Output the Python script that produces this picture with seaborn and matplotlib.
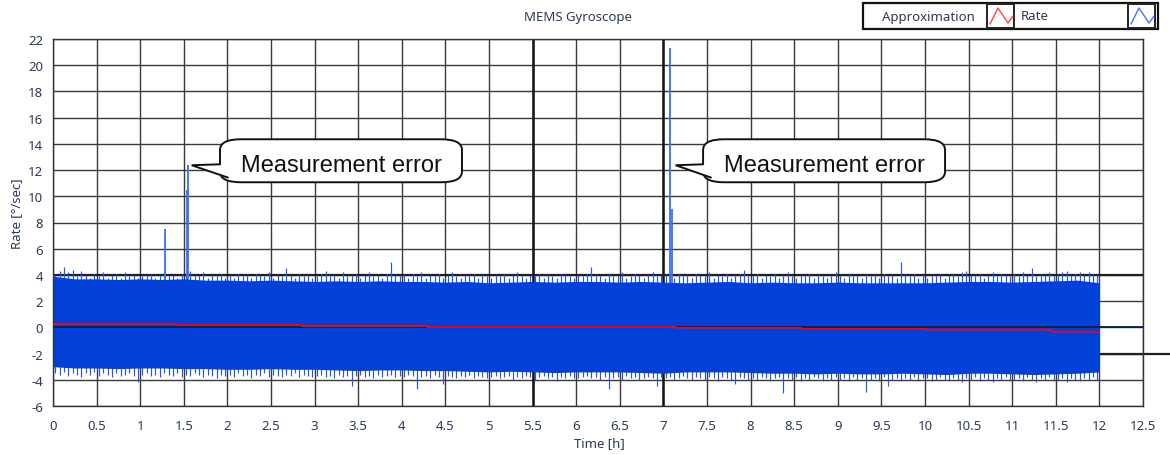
import numpy as np
import pandas as pd
import matplotlib
matplotlib.use("Agg")
import matplotlib.pyplot as plt
import seaborn as sns
from matplotlib.patches import FancyBboxPatch, Polygon, Rectangle
from matplotlib.lines import Line2D

# ---------------- data ----------------
# dense core of the rate signal (every 0.25 h)
env_time = np.arange(0, 12.001, 0.25)
rate_core_upper = [3.9, 3.7, 3.7, 3.65, 3.7, 3.65, 3.7, 3.6, 3.6, 3.55,
                   3.6, 3.55, 3.5, 3.55, 3.5, 3.55, 3.5, 3.5, 3.45, 3.5,
                   3.4, 3.45, 3.5, 3.45, 3.5, 3.5, 3.45, 3.5, 3.45, 3.4,
                   3.45, 3.5, 3.4, 3.45, 3.4, 3.4, 3.45, 3.4, 3.4, 3.4,
                   3.4, 3.45, 3.5, 3.5, 3.45, 3.5, 3.55, 3.6, 3.4]
rate_core_lower = [-3.0, -3.1, -3.1, -3.15, -3.1, -3.1, -3.15, -3.15, -3.2, -3.2,
                   -3.15, -3.2, -3.2, -3.25, -3.3, -3.25, -3.25, -3.3, -3.3, -3.35,
                   -3.4, -3.35, -3.4, -3.45, -3.4, -3.4, -3.4, -3.45, -3.5, -3.4,
                   -3.4, -3.4, -3.45, -3.5, -3.5, -3.55, -3.5, -3.55, -3.55, -3.5,
                   -3.55, -3.6, -3.5, -3.5, -3.55, -3.6, -3.55, -3.5, -3.4]

# peak rate per 0.05 h interval (one row per hour)
peak_time = np.arange(0.025, 12.0, 0.05)
rate_peak_upper = [
    4.0, 4.3, 4.6, 4.2, 4.4, 3.9, 4.3, 4.0, 3.8, 4.1, 3.9, 4.2, 3.8, 4.0, 4.1, 3.8, 4.2, 3.9, 4.0, 3.8,
    3.9, 4.0, 4.1, 3.8, 4.0, 4.2, 3.9, 4.0, 3.8, 4.1, 4.0, 4.3, 3.9, 4.0, 4.2, 3.8, 4.0, 3.9, 4.1, 3.8,
    4.0, 3.8, 4.1, 3.9, 4.0, 3.8, 4.1, 4.0, 3.9, 4.2, 3.8, 4.0, 3.9, 4.5, 4.0, 3.8, 4.1, 3.9, 4.0, 3.8,
    3.9, 4.1, 4.3, 3.9, 4.0, 3.8, 4.2, 3.9, 4.0, 4.1, 3.8, 4.0, 4.2, 3.9, 4.0, 3.8, 4.1, 5.0, 4.0, 3.9,
    4.0, 3.8, 4.1, 3.9, 4.2, 3.8, 4.0, 3.9, 4.1, 3.8, 4.0, 4.2, 3.9, 3.8, 4.0, 3.9, 4.1, 3.8, 4.0, 3.9,
    3.8, 4.0, 3.9, 4.1, 3.8, 4.0, 4.2, 3.9, 3.8, 4.0, 3.9, 4.1, 3.8, 4.0, 3.9, 3.8, 4.1, 4.0, 3.9, 3.8,
    4.0, 3.9, 4.1, 4.6, 3.9, 4.0, 3.8, 4.1, 3.9, 4.0, 4.2, 3.8, 3.9, 4.1, 4.0, 3.8, 4.0, 4.2, 3.9, 4.0,
    4.0, 3.9, 3.8, 4.1, 3.9, 4.0, 3.8, 4.1, 4.0, 3.9, 4.2, 3.8, 4.0, 3.9, 4.1, 3.8, 4.0, 4.1, 4.4, 3.9,
    3.9, 4.1, 3.8, 4.0, 3.9, 4.1, 3.8, 4.0, 4.2, 3.9, 3.8, 4.0, 3.9, 4.1, 3.8, 4.0, 3.9, 3.8, 4.0, 4.2,
    4.0, 3.8, 4.1, 3.9, 4.0, 3.8, 4.1, 3.9, 4.0, 3.8, 4.1, 3.9, 4.0, 3.8, 5.0, 4.0, 3.9, 4.1, 3.8, 4.0,
    3.8, 4.0, 3.9, 4.1, 3.8, 4.0, 4.1, 3.9, 4.2, 4.3, 4.0, 3.9, 4.1, 3.8, 4.0, 4.2, 3.9, 4.1, 4.0, 3.9,
    4.1, 3.9, 4.2, 4.0, 4.5, 3.9, 4.1, 4.0, 4.2, 3.9, 4.1, 4.2, 4.3, 4.0, 4.1, 4.2, 4.0, 4.2, 4.1, 4.0,
]
rate_peak_lower = [
    -3.5, -3.6, -3.4, -3.7, -3.5, -3.6, -3.8, -3.5, -3.6, -3.4, -3.7, -3.5, -3.6, -3.8, -3.5, -3.7, -3.6, -3.5, -3.7, -4.2,
    -3.6, -3.5, -3.7, -3.6, -3.8, -3.5, -3.6, -3.7, -3.5, -3.8, -3.6, -3.7, -3.5, -3.6, -3.8, -3.6, -3.7, -3.9, -3.6, -3.7,
    -3.6, -3.8, -3.5, -3.7, -3.6, -3.9, -3.6, -3.7, -3.5, -3.8, -3.6, -3.7, -3.8, -3.6, -3.7, -3.5, -3.8, -3.6, -3.7, -3.8,
    -3.7, -3.6, -3.8, -3.7, -3.9, -3.6, -3.8, -3.7, -4.5, -3.7, -3.6, -3.8, -3.7, -3.9, -3.6, -3.8, -3.7, -3.6, -3.8, -3.7,
    -3.8, -3.6, -3.7, -4.7, -3.8, -3.7, -3.9, -3.6, -3.8, -4.3, -3.7, -3.8, -3.9, -3.7, -3.8, -3.6, -3.9, -3.7, -3.8, -3.9,
    -3.8, -3.7, -3.9, -3.8, -3.7, -4.0, -3.8, -3.9, -3.7, -3.8, -4.0, -3.8, -3.7, -3.9, -3.8, -4.1, -3.8, -3.9, -3.7, -3.9,
    -3.9, -3.8, -3.7, -3.9, -3.8, -4.0, -3.8, -4.7, -3.9, -3.8, -4.0, -3.7, -3.9, -3.8, -4.0, -3.9, -3.8, -3.9, -4.5, -3.8,
    -3.9, -3.8, -4.0, -3.9, -3.7, -3.9, -4.0, -3.8, -3.9, -4.0, -3.8, -3.9, -4.1, -3.8, -3.9, -4.0, -4.3, -3.8, -3.9, -4.0,
    -3.9, -4.0, -3.8, -3.9, -4.1, -3.9, -3.8, -5.0, -3.9, -4.0, -3.8, -4.1, -3.9, -4.0, -3.8, -3.9, -4.1, -3.9, -4.0, -3.8,
    -4.0, -3.9, -4.1, -3.8, -4.0, -3.9, -4.9, -4.0, -3.9, -4.1, -3.8, -4.5, -4.0, -3.9, -4.1, -3.9, -4.0, -3.8, -4.1, -3.9,
    -3.9, -4.1, -4.0, -3.8, -4.0, -4.1, -3.9, -4.0, -4.2, -3.9, -4.0, -3.8, -4.1, -3.9, -4.0, -4.2, -3.9, -4.0, -3.8, -4.1,
    -4.0, -3.9, -4.1, -3.8, -4.0, -4.2, -3.9, -4.0, -3.8, -4.1, -4.0, -3.9, -4.2, -3.9, -4.0, -4.1, -3.9, -4.0, -3.8, -4.0,
]
assert len(peak_time) == len(rate_peak_upper) == len(rate_peak_lower)

# isolated measurement errors
error_time = [1.29, 1.54, 1.55, 7.08, 7.10]
error_rate = [7.5, 10.5, 12.4, 21.35, 9.0]

# piecewise-constant approximation
approx_time = [0.0, 1.43, 2.86, 4.29, 5.72, 7.15, 8.58, 10.01, 11.44, 12.0]
approx_level = [0.27, 0.2, 0.13, 0.04, 0.0, -0.08, -0.15, -0.22, -0.35]

x_ticks = np.arange(0, 12.51, 0.5)
x_tick_labels = [f"{v:g}" for v in x_ticks]
y_ticks = list(range(-6, 23, 2))
y_tick_labels = [str(v) for v in y_ticks]

callout_text = "Measurement error"
callout_tip = [(1.59, 12.37), (7.14, 12.37)]
callout_box = [(1.915, 4.69), (7.455, 10.23)]

# ---------------- style ----------------
BLUE = "#0340d8"
BLUE_TIP = "#2259e2"
RED = "#c81030"
TXT = "#2c3a55"
GRID = "#3a3a3a"

sns.set_style("white")
plt.rcParams["font.family"] = ["Noto Sans", "DejaVu Sans"]

W, H = 1170, 456
fig = plt.figure(figsize=(W / 100, H / 100), dpi=100)
ax = fig.add_axes([53 / W, 1 - 407 / H, 1090 / W, 367 / H])
ax.set_xlim(0, 12.5)
ax.set_ylim(-6, 22)

ax.set_xticks(x_ticks)
ax.set_xticklabels(x_tick_labels)
ax.set_yticks(y_ticks)
ax.set_yticklabels(y_tick_labels)
ax.tick_params(axis="both", direction="out", length=4, width=1, color="#333333",
               labelcolor=TXT, labelsize=9.5, pad=3)
ax.tick_params(axis="x", pad=5)
ax.grid(True, color=GRID, lw=1.0)
ax.set_axisbelow(True)
for s in ax.spines.values():
    s.set_color("#333333")
    s.set_linewidth(1.0)

# emphasised grid lines
for xv in (5.5, 7.0):
    ax.axvline(xv, color="#151515", lw=1.8, zorder=0.8)
for yv in (4, -2):
    ax.axhline(yv, color="#202020", lw=1.6, zorder=0.8)
ax.add_line(Line2D([1.0, 1.03], [-2, -2], transform=ax.get_yaxis_transform(),
                   color="#202020", lw=1.6, clip_on=False))

# rate signal
ax.fill_between(env_time, rate_core_lower, rate_core_upper, color=BLUE, lw=0, zorder=2)
ax.vlines(peak_time, 0, rate_peak_upper, color=BLUE_TIP, lw=0.85, zorder=1.9)
ax.vlines(peak_time, 0, rate_peak_lower, color=BLUE_TIP, lw=0.85, zorder=1.9)
ax.vlines(error_time, 0, error_rate, color="#3c6ff0", lw=1.3, zorder=1.9)

# zero line
ax.axhline(0, color="#0c1c4c", lw=1.3, zorder=3)

# approximation
approx_df = pd.DataFrame({"time": approx_time,
                          "level": approx_level + [approx_level[-1]]})
sns.lineplot(data=approx_df, x="time", y="level", ax=ax, color=RED, lw=1.5,
             drawstyle="steps-post", estimator=None, sort=False, zorder=4)
ax.set_xlabel("")
ax.set_ylabel("")

# callouts
for (tx, ty), (bx0, bx1) in zip(callout_tip, callout_box):
    by0, by1 = 11.07, 14.35
    box = FancyBboxPatch((bx0, by0), bx1 - bx0, by1 - by0,
                         boxstyle="round,pad=0,rounding_size=0.24",
                         mutation_aspect=3.4, fc="white", ec="#111111",
                         lw=1.4, zorder=6)
    ax.add_patch(box)
    top_att = (bx0, 12.44)
    bot_att = (bx0 + 0.09, 11.43)
    tail = Polygon([(tx, ty), top_att, (bx0 + 0.4, 12.44), (bx0 + 0.4, 11.3), bot_att],
                   closed=True, fc="white", ec="none", zorder=7)
    ax.add_patch(tail)
    ax.plot([top_att[0], tx, bot_att[0]], [top_att[1], ty, bot_att[1]],
            color="#111111", lw=1.4, zorder=8, solid_joinstyle="miter")
    ax.text((bx0 + bx1) / 2, 11.9, callout_text, ha="center", va="baseline",
            fontsize=17, family=["Liberation Sans", "DejaVu Sans"],
            color="#111111", zorder=9)

# titles
fig.text(578 / W, 1 - 18 / H, "MEMS Gyroscope", ha="center", va="center",
         fontsize=9.5, color=TXT)
fig.text(599 / W, 1 - 444 / H, "Time [h]", ha="center", va="center",
         fontsize=9.5, color=TXT)
fig.text(17 / W, 1 - 214 / H, "Rate [°/sec]", ha="center", va="center",
         rotation=90, fontsize=9.5, color=TXT)

# legend box
def fx(p):
    return p / W

def fy(p):
    return 1 - p / H

fig.add_artist(Rectangle((fx(863), fy(30)), fx(295), 26 / H, transform=fig.transFigure,
                         fc="white", ec="#111111", lw=1.6))
fig.text(fx(928), fy(17), "Approximation", ha="center", va="center",
         fontsize=9.5, color=TXT)
fig.text(fx(1021), fy(17), "Rate", ha="left", va="center", fontsize=9.5, color=TXT)
for x0, col in ((987, "#ff5050"), (1128, "#4f7fff")):
    fig.add_artist(Rectangle((fx(x0), fy(29)), fx(27), 24 / H, transform=fig.transFigure,
                             fc="white", ec="#222222", lw=1.4))
    zx = [x0 + 3, x0 + 11, x0 + 21, x0 + 26]
    zy = [25, 9, 24, 17]
    fig.add_artist(Line2D([fx(v) for v in zx], [fy(v) for v in zy],
                          transform=fig.transFigure, color=col, lw=1.1))

fig.savefig("out.png", dpi=100)
